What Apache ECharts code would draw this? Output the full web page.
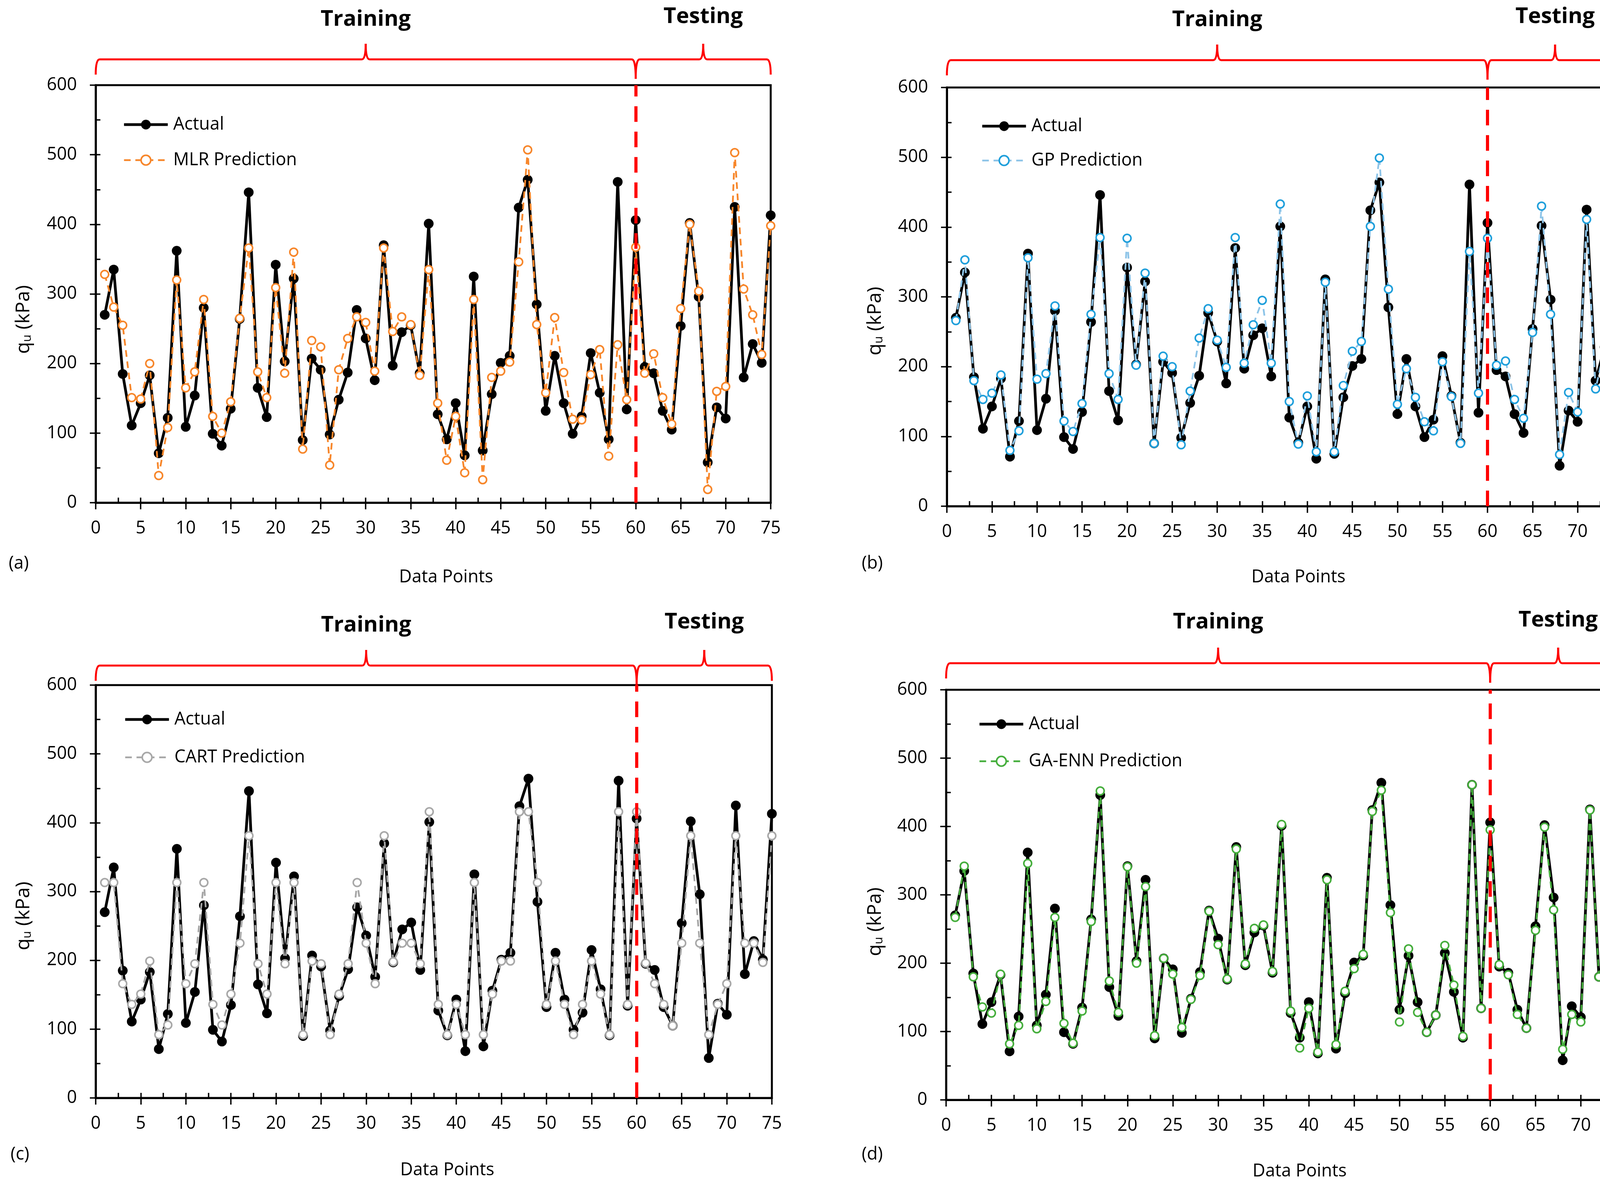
<!DOCTYPE html>
<html><head><meta charset="utf-8">
<script src="https://cdn.jsdelivr.net/npm/echarts@6/dist/echarts.min.js"></script>
<style>html,body{margin:0;padding:0;background:#fff;overflow:hidden}#c{width:4211px;height:3039px}</style>
</head><body><div id="c"></div>
<script>
// ---------------- data ----------------
const dataPoints = [1,2,3,4,5,6,7,8,9,10,11,12,13,14,15,16,17,18,19,20,21,22,23,24,25,26,27,28,29,30,31,32,33,34,35,36,37,38,39,40,41,42,43,44,45,46,47,48,49,50,51,52,53,54,55,56,57,58,59,60,61,62,63,64,65,66,67,68,69,70,71,72,73,74,75];
const actual = [270,335,185,111,143,183,71,122,362,109, 154,280,99,82,135,264,446,165,123,342, 203,322,90,207,191,98,148,187,277,236, 176,370,197,245,255,186,401,127,91,143, 68,325,75,156,201,211,424,464,285,132, 211,143,99,124,215,158,91,461,134,406, 195,186,132,105,254,402,296,58,137,121, 425,180,228,201,413];
const mlrPrediction = [328,281,255,151,149,200,39,108,320,165, 188,292,124,100,145,265,366,188,151,309, 186,360,77,233,224,54,191,236,267,259, 189,366,246,267,256,183,335,143,61,124, 43,292,33,180,189,202,346,507,256,158, 266,187,120,119,184,220,67,227,148,367, 186,214,151,113,279,400,304,19,160,167, 503,307,270,213,398];
const gpPrediction = [266,353,180,153,162,188,80,108,356,182, 190,287,122,107,147,275,385,190,153,384, 202,334,90,215,200,88,165,241,283,238, 199,385,205,260,295,205,433,150,89,158, 78,321,78,173,222,236,401,499,311,146, 197,156,121,108,207,157,90,365,162,384, 202,208,153,126,249,430,275,74,163,135, 411,168,227,216,396];
const cartPrediction = [313,313,166,136,151,199,92,106,313,166, 195,313,136,106,151,225,381,195,151,313, 195,313,92,199,195,92,151,195,313,225, 166,381,198,225,225,195,416,136,92,136, 92,313,92,151,199,199,416,416,313,136, 199,136,92,136,199,151,92,416,136,416, 196,166,136,105,225,381,225,92,136,166, 381,225,225,197,381];
const gaennPrediction = [267,342,180,136,127,184,82,109,346,104, 144,267,112,83,130,261,452,174,128,341, 200,312,94,207,184,106,147,182,276,227, 177,367,199,251,256,188,403,130,76,134, 70,322,81,159,192,213,422,453,274,114, 221,128,99,124,226,168,93,461,134,395, 198,183,125,105,248,399,278,74,125,114, 424,180,230,202,422];
const xTicks = {min:0, max:75, major:5, minor:2.5};
const yTicks = {min:0, max:600, major:100, minor:50};
const splitPoint = 60;          // Training / Testing boundary
const trainingCenter = 30, testingCenter = 67.5;
const seriesNames = ['MLR Prediction','GP Prediction','CART Prediction','GA-ENN Prediction'];
const panelLabels = ['(a)','(b)','(c)','(d)'];
const predictions = [mlrPrediction, gpPrediction, cartPrediction, gaennPrediction];

// ---------------- layout / style ----------------
const FONT = 'Open Sans';
const styles = [
  {line:'#F7862A', mark:'#F7862A'},
  {line:'#8DC4E8', mark:'#1F9FDB'},
  {line:'#A6A6A6', mark:'#A8A8A8'},
  {line:'#45AE3C', mark:'#45AE3C'}
];
const layout = [
  {grid:{left:245, top:218, width:1728, height:1069}, leg:{left:309, row:314, gap:91}, trainY:50, testY:43, braceY:152, lab:[48,1443], xname:[1142,1478], yname:[56,818]},
  {grid:{left:2424, top:224, width:1730, height:1072}, leg:{left:2506, row:318, gap:88}, trainY:51, testY:43, braceY:154, lab:[2233,1443], xname:[3324,1478], yname:[2236,822]},
  {grid:{left:245, top:1754, width:1731, height:1057}, leg:{left:312, row:1837, gap:97}, trainY:1601, testY:1593, braceY:1704, lab:[51,2956], xname:[1145,2996], yname:[56,2345]},
  {grid:{left:2422, top:1766, width:1741, height:1050}, leg:{left:2499, row:1849, gap:95}, trainY:1593, testY:1588, braceY:1698, lab:[2233,2956], xname:[3327,2999], yname:[2236,2360]}
];
const ACTUAL_W = 7, PRED_W = 4.5, DASH = [17,12];

const chart = echarts.init(document.getElementById('c'), null, {renderer:'canvas'});
const grids = [], xAxes = [], yAxes = [], series = [], legends = [];
const lbl = {fontFamily:FONT, fontSize:45, color:'#000'};

layout.forEach((L, k) => {
  grids.push(Object.assign({show:true, borderColor:'#000', borderWidth:5, backgroundColor:'transparent', containLabel:false}, L.grid));
  xAxes.push({gridIndex:k, type:'value', position:'bottom', min:xTicks.min, max:xTicks.max, interval:xTicks.major,
    axisLine:{show:true, onZero:false, lineStyle:{color:'#000', width:5}},
    axisTick:{show:true, inside:false, length:17, lineStyle:{color:'#000', width:3.5}},
    axisLabel:Object.assign({margin:44}, lbl), splitLine:{show:false}});
  xAxes.push({gridIndex:k, type:'value', position:'bottom', min:xTicks.min, max:xTicks.max, interval:xTicks.minor,
    axisLine:{show:false, onZero:false}, axisTick:{show:true, inside:true, length:13, lineStyle:{color:'#000', width:3.5}},
    axisLabel:{show:false}, splitLine:{show:false}});
  yAxes.push({gridIndex:k, type:'value', position:'left', min:yTicks.min, max:yTicks.max, interval:yTicks.major,
    axisLine:{show:true, onZero:false, lineStyle:{color:'#000', width:5}},
    axisTick:{show:true, inside:false, length:15, lineStyle:{color:'#000', width:3.5}},
    axisLabel:Object.assign({margin:48}, lbl), splitLine:{show:false}});
  yAxes.push({gridIndex:k, type:'value', position:'left', min:yTicks.min, max:yTicks.max, interval:yTicks.minor,
    axisLine:{show:false, onZero:false}, axisTick:{show:true, inside:true, length:12, lineStyle:{color:'#000', width:3.5}},
    axisLabel:{show:false}, splitLine:{show:false}});

  const S = styles[k];
  series.push({
    name:'Actual', type:'line', xAxisIndex:2*k, yAxisIndex:2*k, clip:false,
    data: dataPoints.map((d,i)=>[d, actual[i]]),
    symbol:'circle', symbolSize:25, showAllSymbol:true,
    lineStyle:{color:'#000', width:ACTUAL_W}, itemStyle:{color:'#000'},
    emphasis:{disabled:true}, z:2,
    markLine:{silent:true, symbol:'none', label:{show:false}, animation:false,
      lineStyle:{color:'#FF0000', width:8, type:[40,25]}, emphasis:{disabled:true},
      data:[{xAxis:splitPoint}]}
  });
  series.push({
    name:seriesNames[k], type:'line', xAxisIndex:2*k, yAxisIndex:2*k, clip:false,
    data: dataPoints.map((d,i)=>[d, predictions[k][i]]),
    symbol:'circle', symbolSize:20, showAllSymbol:true,
    lineStyle:{color:S.line, width:PRED_W, type:DASH},
    itemStyle:{color:'#fff', borderColor:S.mark, borderWidth:4},
    emphasis:{disabled:true}, z:3
  });
  legends.push({
    orient:'vertical', left:L.leg.left, top:L.leg.row - 25,
    itemWidth:112, itemHeight:31, itemGap:L.leg.gap - 50,
    textStyle:{fontFamily:FONT, fontSize:45, color:'#000', lineHeight:50, padding:[0,0,0,9]},
    data:[
      {name:'Actual', lineStyle:{color:'#000', width:ACTUAL_W, type:'solid'}, itemStyle:{color:'#000'}},
      {name:seriesNames[k], lineStyle:{color:S.line, width:PRED_W, type:DASH}, itemStyle:{color:'#fff', borderColor:S.mark, borderWidth:4}}
    ],
    selectedMode:false
  });
});

chart.setOption({
  animation:false, backgroundColor:'#fff',
  grid:grids, xAxis:xAxes, yAxis:yAxes, series:series, legend:legends
});

// ---------------- annotations (braces, titles, axis names) ----------------
const RED = '#FF0000';
function brace(g, x0, xm, x1, yH, d0, d1) {
  const r = 10, tip = 40, ls = {stroke:RED, lineWidth:5, fill:null};
  g.push({type:'bezierCurve', shape:{x1:x0, y1:yH+d0, cpx1:x0, cpy1:yH, x2:x0+r, y2:yH}, style:ls, silent:true});
  g.push({type:'line', shape:{x1:x0+r, y1:yH, x2:xm-r, y2:yH}, style:ls, silent:true});
  g.push({type:'bezierCurve', shape:{x1:xm-r, y1:yH, cpx1:xm, cpy1:yH, x2:xm, y2:yH-tip}, style:ls, silent:true});
  g.push({type:'bezierCurve', shape:{x1:xm, y1:yH-tip, cpx1:xm, cpy1:yH, x2:xm+r, y2:yH}, style:ls, silent:true});
  g.push({type:'line', shape:{x1:xm+r, y1:yH, x2:x1-r, y2:yH}, style:ls, silent:true});
  g.push({type:'bezierCurve', shape:{x1:x1-r, y1:yH, cpx1:x1, cpy1:yH, x2:x1, y2:yH+d1}, style:ls, silent:true});
}
const graphics = [];
layout.forEach((L, k) => {
  const px = v => chart.convertToPixel({xAxisIndex:2*k}, v);
  const xs = px(xTicks.min), xt = px(trainingCenter), xj = px(splitPoint), xe = px(testingCenter), xr = px(xTicks.max);
  brace(graphics, xs, xt, xj, L.braceY, 39, 50);
  brace(graphics, xj, xe, xr, L.braceY, 50, 39);
  graphics.push({type:'text', x:xt, y:L.trainY, silent:true, style:{text:'Training', fontFamily:FONT, fontWeight:'bold', fontSize:56, fill:'#000', align:'center', verticalAlign:'middle'}});
  graphics.push({type:'text', x:xe, y:L.testY, silent:true, style:{text:'Testing', fontFamily:FONT, fontWeight:'bold', fontSize:56, fill:'#000', align:'center', verticalAlign:'middle'}});
  graphics.push({type:'text', x:L.xname[0], y:L.xname[1], silent:true, style:{text:'Data Points', fontFamily:FONT, fontSize:45, fill:'#000', align:'center', verticalAlign:'middle'}});
  graphics.push({type:'text', x:L.lab[0], y:L.lab[1], silent:true, style:{text:panelLabels[k], fontFamily:FONT, fontSize:45, fill:'#000', align:'center', verticalAlign:'middle'}});
  graphics.push({type:'text', x:L.yname[0], y:L.yname[1], rotation:Math.PI/2, silent:true, style:{
    text:'{q|q}{s|u}{q| (kPa)}', align:'center', verticalAlign:'middle', fill:'#000',
    rich:{q:{fontFamily:FONT, fontSize:50, lineHeight:60, verticalAlign:'bottom', fill:'#000'},
          s:{fontFamily:FONT, fontSize:31, lineHeight:30, verticalAlign:'bottom', fill:'#000'}}}});
});
chart.setOption({graphic:graphics});
</script>
</body></html>
